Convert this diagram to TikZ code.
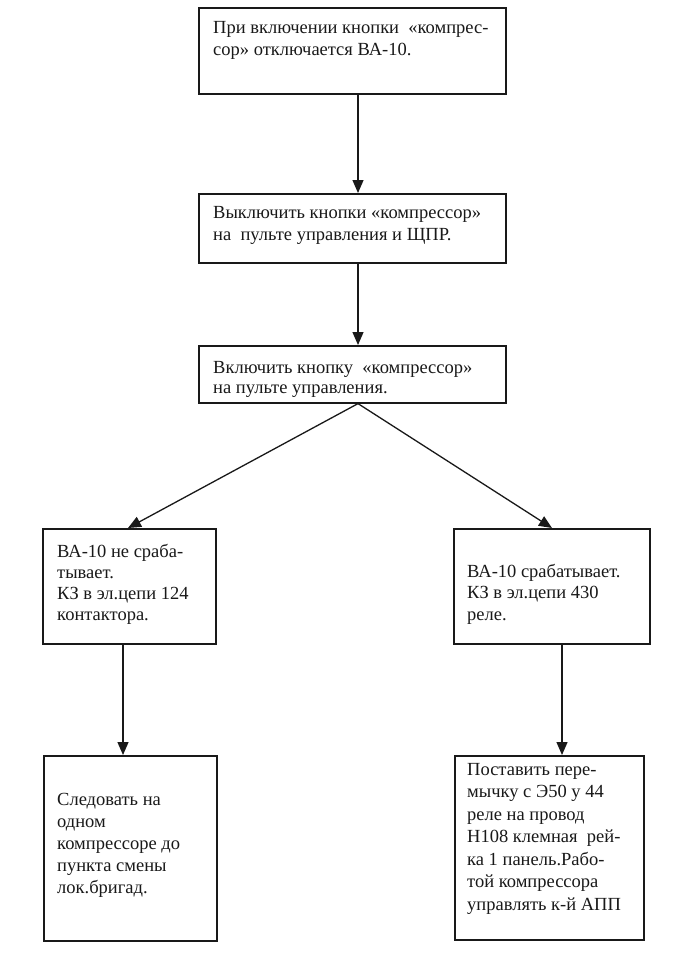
\documentclass[tikz,border=0pt]{standalone}
\usepackage{fontspec}
\setmainfont{Liberation Serif}
\usetikzlibrary{arrows.meta}
\tikzset{
  box/.style={draw=black!90, line width=1.6pt, rectangle, inner sep=0pt, anchor=north west},
  txt/.style={anchor=north west, inner sep=0pt, align=left, text=black!90,
    font=\fontsize{18.5}{22}\selectfont},
  arr/.style={draw=black!90, line width=1.3pt, -{Triangle[length=13pt,width=11pt]}}
}
\begin{document}
\begin{tikzpicture}[x=1pt,y=-1pt]
\useasboundingbox[fill=white] (0,0) rectangle (673,966);
% boxes
\node[box, minimum width=307pt, minimum height=86pt] (b1) at (198,7) {};
\node[box, minimum width=307pt, minimum height=69pt] (b2) at (198,193) {};
\node[box, minimum width=307pt, minimum height=57pt] (b3) at (198,345) {};
\node[box, minimum width=173pt, minimum height=115pt] (bl) at (42,528) {};
\node[box, minimum width=196pt, minimum height=115pt] (br) at (453,528) {};
\node[box, minimum width=173pt, minimum height=185pt] (cl) at (43,755) {};
\node[box, minimum width=189pt, minimum height=184pt] (cr) at (454,755) {};
% texts (placed at first baseline - 0.7*baselineskip)
\node[txt] (t1) at (213,17.6) {\strut При включении кнопки \ «компрес-\\сор» отключается ВА-10.};
\node[txt] (t2) at (213,202.6) {\strut Выключить кнопки «компрессор»\\на \ пульте управления и ЩПР.};
\node[txt, font=\fontsize{18.5}{20}\selectfont] (t3) at (213,359) {\strut Включить кнопку \ «компрессор»\\на пульте управления.};
\node[txt, font=\fontsize{18.5}{21}\selectfont] (t4) at (57,542.3) {\strut ВА-10 не сраба-\\тывает.\\КЗ в эл.цепи 124\\контактора.};
\node[txt, font=\fontsize{18.5}{21.5}\selectfont] (t5) at (467,562) {\strut ВА-10 срабатывает.\\КЗ в эл.цепи 430\\реле.};
\node[txt] (t6) at (57,789.6) {\strut Следовать на\\одном\\компрессоре до\\пункта смены\\лок.бригад.};
\node[txt, font=\fontsize{18.5}{22.5}\selectfont] (t7) at (467,759.3) {\strut Поставить пере-\\мычку с Э50 у 44\\реле на провод\\Н108 клемная \ рей-\\ка 1 панель.Рабо-\\той компрессора\\управлять к-й АПП};
% connector x positions
\coordinate (xm) at (358,0);
\coordinate (xl) at (128,0);
\coordinate (xr) at (552,0);
\coordinate (xl2) at (123,0);
\coordinate (xr2) at (562,0);
\draw[arr] (b1.south -| xm) -- (b2.north -| xm);
\draw[arr] (b2.south -| xm) -- (b3.north -| xm);
\draw[arr] (b3.south -| xm) -- (bl.north -| xl);
\draw[arr] (b3.south -| xm) -- (br.north -| xr);
\draw[arr] (bl.south -| xl2) -- (cl.north -| xl2);
\draw[arr] (br.south -| xr2) -- (cr.north -| xr2);
\end{tikzpicture}
\end{document}
